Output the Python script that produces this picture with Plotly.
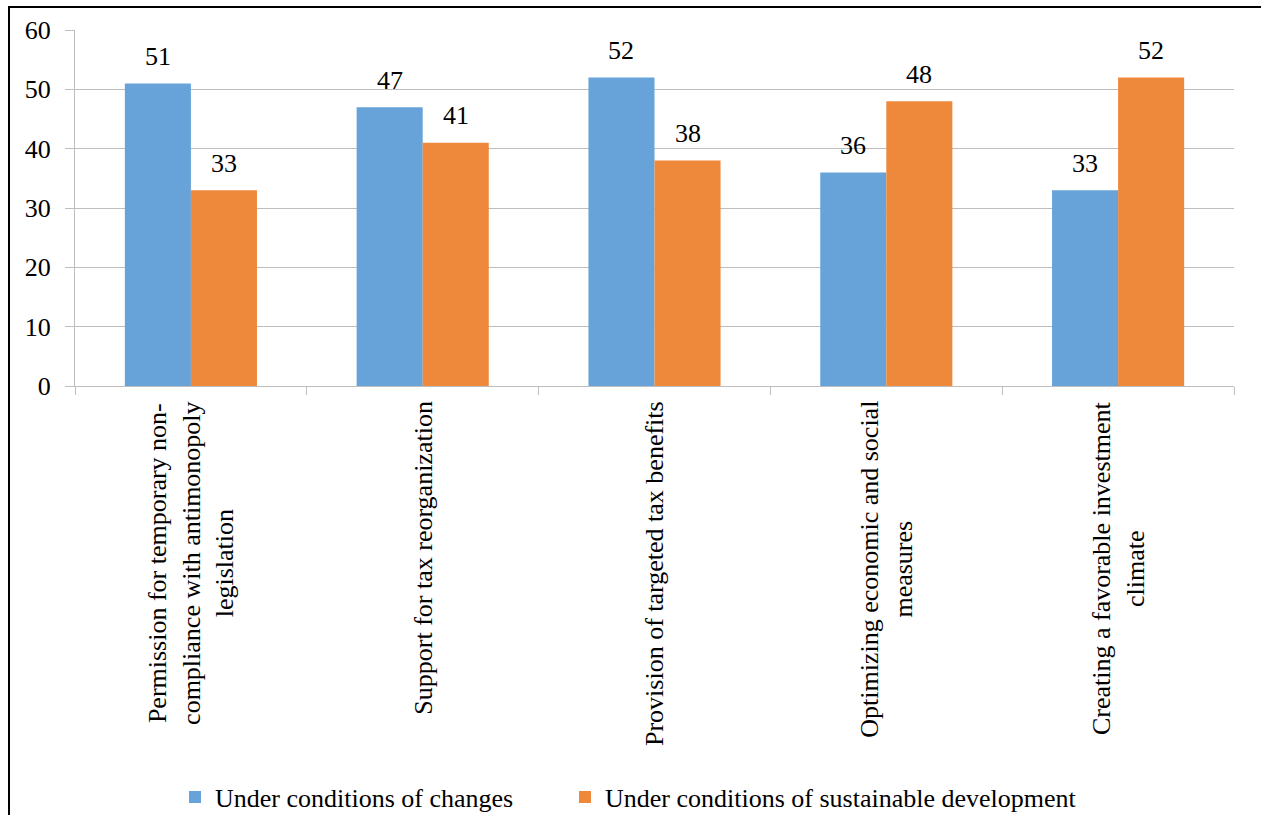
import plotly.graph_objects as go

# Survey results: share of respondents per measure (%)
categories = [
    "Permission for temporary non-<br>compliance with antimonopoly<br>legislation",
    "Support for tax reorganization",
    "Provision of targeted tax benefits",
    "Optimizing economic and social<br>measures",
    "Creating a favorable investment<br>climate",
]
series_names = ["Under conditions of changes", "Under conditions of sustainable development"]
changes = [51, 47, 52, 36, 33]
sustainable = [33, 41, 38, 48, 52]
y_ticks = [0, 10, 20, 30, 40, 50, 60]

FONT = "Liberation Serif, Times New Roman, serif"
FS = 26
BLUE = "#67A3D9"
ORANGE = "#EE883B"
GRID = "#BDBDBD"

W, H = 1261, 815
ML, MR, MT, MB = 75, 27, 30, 429
plot_w = W - ML - MR
plot_h = H - MT - MB


def px_x(px):
    return (px - ML) / plot_w


def px_y(py):
    return (H - MB - py) / plot_h


fig = go.Figure()
fig.add_trace(go.Bar(name=series_names[0], x=categories, y=changes,
                     marker=dict(color=BLUE, line=dict(width=0)),
                     legend="legend"))
fig.add_trace(go.Bar(name=series_names[1], x=categories, y=sustainable,
                     marker=dict(color=ORANGE, line=dict(width=0)),
                     legend="legend2"))

bargap = 0.43
bar_px = plot_w / len(categories) * (1 - bargap) / 2

annotations = []
# value labels above each bar
for vals, sign in ((changes, -1), (sustainable, 1)):
    for c, v in zip(categories, vals):
        annotations.append(dict(
            x=c, y=v, xref="x", yref="y", text=str(v), showarrow=False,
            xshift=sign * bar_px / 2, yshift=27, yanchor="middle",
            font=dict(family=FONT, size=FS, color="#000000")))

# rotated category labels under the axis
for c in categories:
    annotations.append(dict(
        x=c, y=px_y(399), xref="x", yref="paper", text=c, showarrow=False,
        textangle=-90, yanchor="top", xanchor="center", align="center",
        font=dict(family=FONT, size=FS, color="#000000")))

legend_common = dict(orientation="h", xanchor="left", yanchor="middle",
                     y=px_y(797), bgcolor="rgba(0,0,0,0)",
                     font=dict(family=FONT, size=FS, color="#000000"))

fig.update_layout(
    width=W, height=H,
    margin=dict(l=ML, r=MR, t=MT, b=MB, autoexpand=False),
    paper_bgcolor="white", plot_bgcolor="white",
    barmode="group", bargap=bargap, bargroupgap=0,
    font=dict(family=FONT, size=FS, color="#000000"),
    showlegend=True,
    legend=dict(x=px_x(175), **legend_common),
    legend2=dict(x=px_x(565), **legend_common),
    annotations=annotations,
    shapes=[
        dict(type="line", xref="paper", yref="paper",
             x0=px_x(9), x1=px_x(9), y0=px_y(7), y1=px_y(830),
             line=dict(color="#000000", width=2)),
        dict(type="line", xref="paper", yref="paper",
             x0=px_x(8), x1=px_x(1275), y0=px_y(7), y1=px_y(7),
             line=dict(color="#000000", width=2)),
    ],
)

fig.update_xaxes(
    showticklabels=False, showline=True, linecolor=GRID, linewidth=1,
    ticks="outside", tickson="boundaries", ticklen=8, tickcolor=GRID,
    showgrid=False, zeroline=False,
)
fig.update_yaxes(
    range=[0, 60], tickvals=y_ticks, ticktext=[str(t) for t in y_ticks],
    showline=True, linecolor=GRID, linewidth=1,
    ticks="outside", ticklen=9, tickcolor=GRID, ticklabelstandoff=9,
    showgrid=True, gridcolor=GRID, gridwidth=1, zeroline=False,
    tickfont=dict(family=FONT, size=FS, color="#000000"),
)

fig.write_html("out.html")
